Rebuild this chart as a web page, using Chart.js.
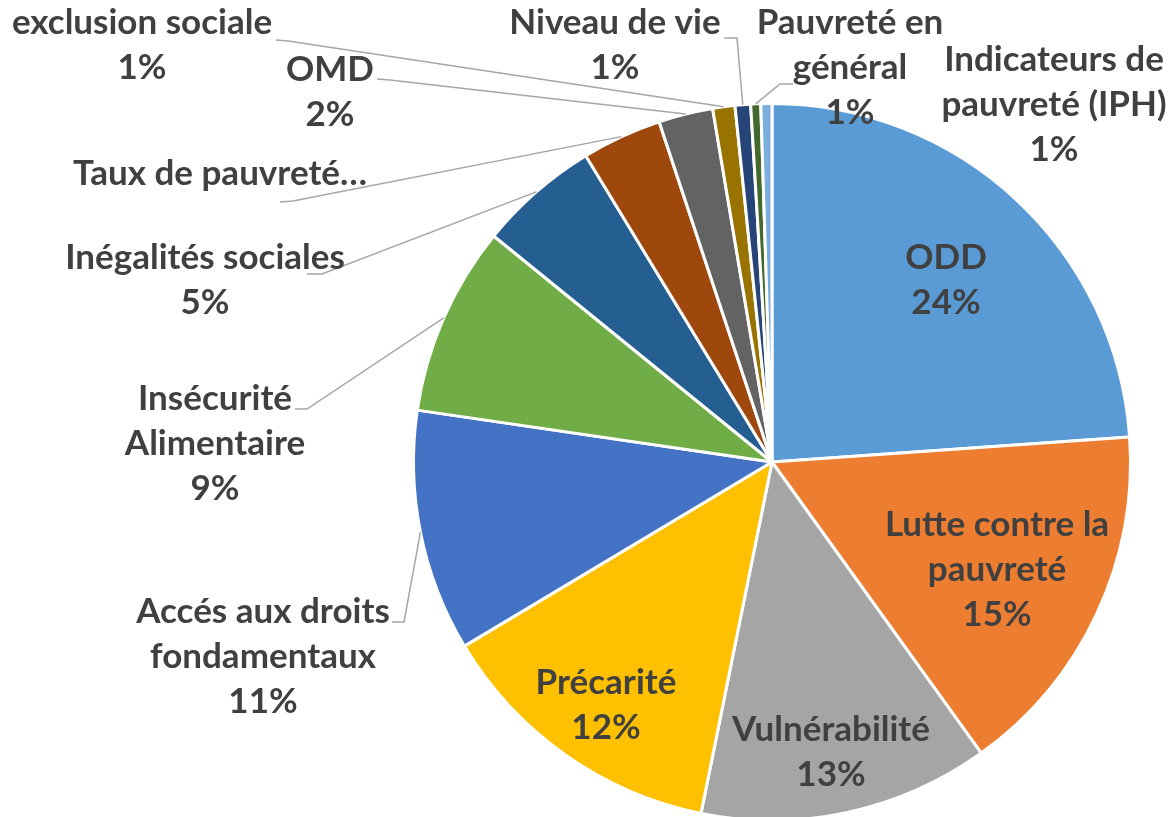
<!DOCTYPE html>
<html lang="fr">
<head>
    <meta charset="UTF-8">
    <title>Répartition des thématiques</title>
    <script src="https://cdn.jsdelivr.net/npm/chart.js"></script>
    <style>
        html, body { margin: 0; padding: 0; background: #fff; overflow: hidden; }
        #wrap { width: 1171px; height: 830px; }
    </style>
</head>
<body>
    <div id="wrap"><canvas id="pieChart" width="1171" height="830"></canvas></div>

    <script>
        // données
        const categories = ['ODD', 'Lutte contre la pauvreté', 'Vulnérabilité', 'Précarité',
            'Accés aux droits fondamentaux', 'Insécurité Alimentaire', 'Inégalités sociales',
            'Taux de pauvreté…', 'OMD', 'exclusion sociale', 'Niveau de vie',
            'Pauvreté en général', 'Indicateurs de pauvreté (IPH)'];
        const shares = [23.9, 16.2, 13.1, 13.25, 10.9, 8.55, 5.45, 3.6, 2.45, 1.0, 0.7, 0.45, 0.5];
        const pctLabels = ['24%', '15%', '13%', '12%', '11%', '9%', '5%', '', '2%', '1%', '1%', '1%', '1%'];
        const labelLines = [['ODD'], ['Lutte contre la', 'pauvreté'], ['Vulnérabilité'], ['Précarité'],
            ['Accés aux droits', 'fondamentaux'], ['Insécurité', 'Alimentaire'], ['Inégalités sociales'],
            ['Taux de pauvreté…'], ['OMD'], ['exclusion sociale'], ['Niveau de vie'],
            ['Pauvreté en', 'général'], ['Indicateurs de', 'pauvreté (IPH)']];

        const colors = ['#5b9bd5', '#ed7d31', '#a5a5a5', '#ffc000', '#4472c4', '#70ad47', '#255e91',
            '#9e480e', '#636363', '#997300', '#264478', '#43682b', '#7cafdd'];

        // placement des étiquettes, relatif au centre du camembert (px)
        const labelPos = [[174, -182], [225, 108], [59, 290], [-166, 243], [-509, 195], [-557, -18],
            [-567, -182], [-552, -288], [-442, -370], [-630, -417], [-157, -417], [78, -394], [282, -357]];
        // lignes de repère : départ -> coude -> bord de la part
        const leaders = [null, null, null, null,
            [-380, 160, -368, 160], [-477, -53, -465, -53], [-465, -188, -450, -188],
            [-492, -260, -479, -261], [-395, -383, -382, -382], [-496, -422, -484, -421],
            [-48, -424, -35, -424], [21, -378, 8, -378], null];

        const LINE_H = 45;

        const sliceLabels = {
            id: 'sliceLabels',
            afterDatasetsDraw(chart) {
                const ctx = chart.ctx;
                const arcs = chart.getDatasetMeta(0).data;
                ctx.save();
                arcs.forEach((arc, i) => {
                    const p = arc.getProps(['x', 'y', 'startAngle', 'endAngle', 'outerRadius'], true);
                    const lead = leaders[i];
                    if (lead) {
                        const mid = (p.startAngle + p.endAngle) / 2;
                        ctx.beginPath();
                        ctx.moveTo(p.x + lead[0], p.y + lead[1]);
                        ctx.lineTo(p.x + lead[2], p.y + lead[3]);
                        ctx.lineTo(p.x + Math.cos(mid) * p.outerRadius, p.y + Math.sin(mid) * p.outerRadius);
                        ctx.strokeStyle = '#a6a6a6';
                        ctx.lineWidth = 1.5;
                        ctx.stroke();
                    }
                    const lines = labelLines[i].concat(pctLabels[i] ? [pctLabels[i]] : []);
                    const cx = p.x + labelPos[i][0];
                    const cy = p.y + labelPos[i][1];
                    ctx.font = 'bold 35px Lato, "Open Sans", sans-serif';
                    ctx.fillStyle = '#404040';
                    ctx.textAlign = 'center';
                    ctx.textBaseline = 'middle';
                    lines.forEach((t, k) => {
                        ctx.fillText(t, cx, cy + (k - (lines.length - 1) / 2) * LINE_H);
                    });
                });
                ctx.restore();
            }
        };

        new Chart(document.getElementById('pieChart'), {
            type: 'pie',
            data: {
                labels: categories,
                datasets: [{
                    data: shares,
                    backgroundColor: colors,
                    borderColor: '#ffffff',
                    borderWidth: 3
                }]
            },
            options: {
                responsive: false,
                animation: false,
                layout: { padding: { left: 412, right: 39, top: 102, bottom: 8 } },
                plugins: {
                    legend: { display: false },
                    tooltip: { enabled: false }
                }
            },
            plugins: [sliceLabels]
        });
    </script>
</body>
</html>
